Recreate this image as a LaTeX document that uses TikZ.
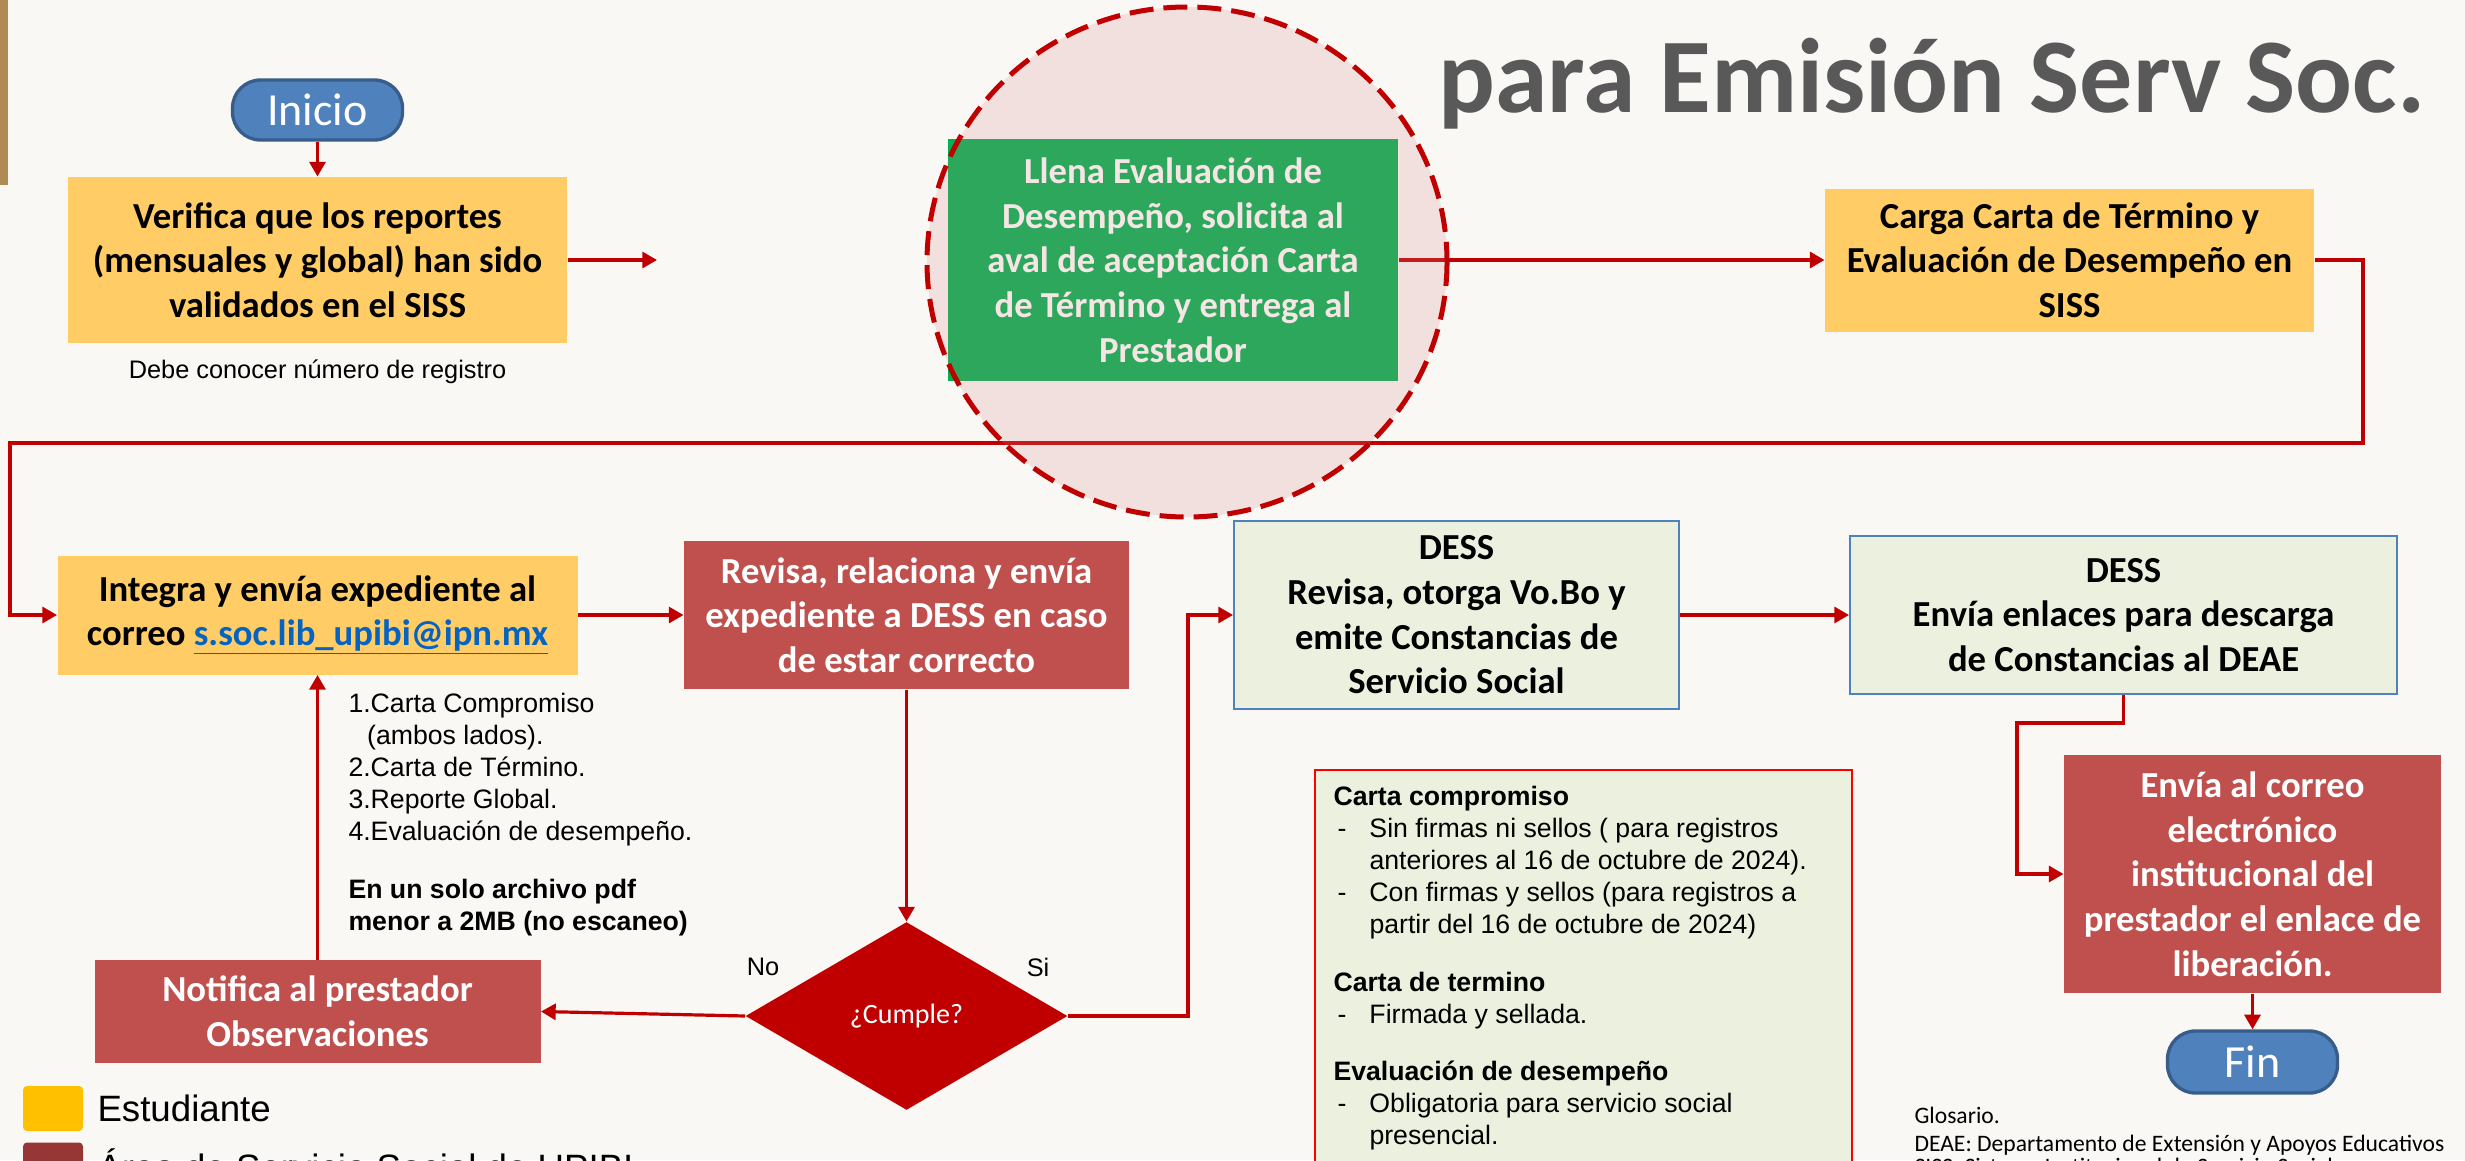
\documentclass[tikz,border=0pt]{standalone}
\usepackage{fontspec}
\setmainfont{Carlito}
\newfontfamily\arialfont{Liberation Sans}
\usepackage{xcolor}
\usetikzlibrary{shapes.geometric,arrows.meta}
\tikzset{every picture/.style={line width=0.75pt}}

\definecolor{estudiante}{RGB}{255,204,102}
\definecolor{upibired}{RGB}{192,80,77}
\definecolor{avalgreen}{RGB}{0,176,80}
\definecolor{dessfill}{RGB}{235,241,222}
\definecolor{dessline}{RGB}{79,129,189}
\definecolor{termfill}{RGB}{79,129,189}
\definecolor{termline}{RGB}{56,93,138}
\definecolor{flowred}{RGB}{192,0,0}
\definecolor{titlegray}{RGB}{89,89,89}
\definecolor{maillink}{RGB}{5,99,193}
\definecolor{bgcream}{RGB}{250,248,244}
\definecolor{barbrown}{RGB}{176,138,84}
\definecolor{tintpink}{RGB}{212,136,136}
\definecolor{legyellow}{RGB}{255,192,0}
\definecolor{legbrown}{RGB}{150,55,53}

\newcommand{\boxtxt}{\fontsize{27.5}{33.5}\selectfont\bfseries}
\newcommand{\notetxt}{\arialfont\fontsize{20}{24}\selectfont}
\newcommand{\guion}{\makebox[27pt][l]{\hspace{3pt}-}}

\tikzset{
  process/.style={rectangle, inner sep=0pt, align=center, font=\boxtxt},
  yellowbox/.style={process, fill=estudiante, text=black},
  redbox/.style={process, fill=upibired, text=white},
  greenbox/.style={process, fill=avalgreen, text=white},
  dessbox/.style={process, fill=dessfill, draw=dessline, line width=1.5pt, text=black},
  terminal/.style={rectangle, rounded corners=21pt, fill=termfill, draw=termline, line width=2.5pt,
    text=white, inner sep=0pt, font=\fontsize{34.5}{40}\selectfont},
  flow/.style={draw=flowred, line width=2.4pt, -{Triangle[length=11pt,width=12pt]}},
  note/.style={inner sep=0pt, align=left, font=\notetxt, text=black},
  glosa/.style={inner sep=0pt, anchor=base west, font=\fontsize{17.7}{21.75}\selectfont},
}

\begin{document}
\begin{tikzpicture}[x=0.75pt,y=0.75pt,yscale=-1,xscale=1]
  \fill[bgcream] (0,0) rectangle (2465,1160);
  \useasboundingbox (0,0) rectangle (2465,1160);
  \fill[barbrown] (0,0) rectangle (8,185);

  % titulo
  \node[anchor=base west, inner sep=0pt, text=titlegray, font=\fontsize{79.5}{90}\selectfont\bfseries] (titulo) at (1438,112) {para Emisión Serv Soc.};

  % fila superior
  \node[terminal, minimum width=127.5pt, minimum height=45pt] (inicio) at (317.5,110) {Inicio};
  \node[yellowbox, minimum width=374.25pt, minimum height=124.5pt] (verifica) at (317.5,260)
    {Verifica que los reportes\\(mensuales y global) han sido\\validados en el SISS};
  \node[note, font=\arialfont\fontsize{19}{23}\selectfont] (registro) at (317.5,372) {Debe conocer número de registro};
  \coordinate (verfin) at (657,260);
  \node[greenbox, minimum width=337.5pt, minimum height=181.5pt] (llena) at (1173,260)
    {Llena Evaluación de\\Desempeño, solicita al\\aval de aceptación Carta\\de Término y entrega al\\Prestador};
  \node[yellowbox, minimum width=366.75pt, minimum height=107.25pt] (carga) at (2069.5,260)
    {Carga Carta de Término y\\Evaluación de Desempeño en\\SISS};

  % fila media
  \node[yellowbox, minimum width=390pt, minimum height=89.25pt] (integra) at (317.5,615)
    {Integra y envía expediente al\\correo \textcolor{maillink}{\underline{s.soc.lib\_upibi@ipn.mx}}};
  \node[redbox, minimum width=333.75pt, minimum height=111pt] (revisa) at (906.5,615)
    {Revisa, relaciona y envía\\expediente a DESS en caso\\de estar correcto};
  \node[dessbox, minimum width=333.75pt, minimum height=141pt] (dess1) at (1456.5,615)
    {DESS\\Revisa, otorga Vo.Bo y\\emite Constancias de\\Servicio Social};
  \node[dessbox, minimum width=410.25pt, minimum height=118.5pt] (dess2) at (2123.5,615)
    {DESS\\Envía enlaces para descarga\\de Constancias al DEAE};

  % requisitos
  \node[note, anchor=north west] (requisitos) at (348,693)
    {1.Carta Compromiso\\\hspace*{14pt}(ambos lados).\\2.Carta de Término.\\3.Reporte Global.\\4.Evaluación de desempeño.\\[19.5pt]
     \textbf{En un solo archivo pdf}\\\textbf{menor a 2MB (no escaneo)}};

  % fila inferior
  \node[diamond, aspect=1.713, fill=flowred, inner sep=0pt, minimum width=241.5pt, minimum height=141pt,
    text=white, font=\fontsize{21}{25}\selectfont] (cumple) at (906.5,1016) {¿Cumple?};
  \node[note, font=\arialfont\fontsize{19}{23}\selectfont] (no) at (763,967) {No};
  \node[note, font=\arialfont\fontsize{19}{23}\selectfont] (si) at (1038,967) {Si};
  \node[redbox, minimum width=334.5pt, minimum height=77.25pt] (notifica) at (317.5,1011.5)
    {Notifica al prestador\\Observaciones};
  \node[redbox, minimum width=282.75pt, minimum height=178.5pt] (envia) at (2252.5,874)
    {Envía al correo\\electrónico\\institucional del\\prestador el enlace de\\liberación.};
  \node[terminal, minimum width=127.5pt, minimum height=46.5pt] (fin) at (2252.5,1062) {Fin};

  % cuadro de notas
  \draw[red, line width=2pt, fill=dessfill] (1315,770) rectangle (1852,1200);
  \node[note, anchor=north west] (notas) at (1333,786)
    {\textbf{Carta compromiso}\\
     \guion Sin firmas ni sellos ( para registros\\
     \hspace*{27pt}anteriores al 16 de octubre de 2024).\\
     \guion Con firmas y sellos (para registros a\\
     \hspace*{27pt}partir del 16 de octubre de 2024)\\[19pt]
     \textbf{Carta de termino}\\
     \guion Firmada y sellada.\\[19pt]
     \textbf{Evaluación de desempeño}\\
     \guion Obligatoria para servicio social\\
     \hspace*{27pt}presencial.};

  % leyenda
  \node[fill=legyellow, rounded corners=3pt, minimum width=45pt, minimum height=33.75pt, inner sep=0pt] (legest) at (53,1108.5) {};
  \node[anchor=west, inner sep=0pt, font=\arialfont\fontsize{27.5}{30}\selectfont] (legesttxt) at (97,1108) {Estudiante};
  \node[fill=legbrown, rounded corners=3pt, minimum width=45pt, minimum height=33.75pt, inner sep=0pt] (legarea) at (53,1165) {};
  \node[anchor=west, inner sep=0pt, font=\arialfont\fontsize{27.5}{30}\selectfont] (legareatxt) at (97,1165) {Área de Servicio Social de UPIBI};

  % glosario
  \node[glosa] (glos1) at (1914,1123) {Glosario.};
  \node[glosa] (glos2) at (1914,1151) {DEAE: Departamento de Extensión y Apoyos Educativos};
  \node[glosa] (glos3) at (1914,1174) {SISS: Sistema Institucional de Servicio Social};

  % conectores
  \draw[flow] (inicio.south) -- (verifica.north);
  \draw[flow] (verifica.east) -- (verfin);
  \draw[flow] (llena.east) -- (carga.west);
  \coordinate (retder) at (2363,443);
  \coordinate (retizq) at (10,443);
  \draw[flow] (carga.east) -| (retder) -- (retizq) |- (integra.west);
  \draw[flow] (integra.east) -- (revisa.west);
  \draw[flow] (revisa.south) -- (cumple.north);
  \draw[flow] (cumple.west) -- (notifica.east);
  \draw[flow] (notifica.north) -- (integra.south);
  \coordinate (sicodo) at (1188,1016);
  \draw[flow] (cumple.east) -- (sicodo) |- (dess1.west);
  \draw[flow] (dess1.east) -- (dess2.west);
  \coordinate (bajada) at (2017,723);
  \draw[flow] (dess2.south) |- (bajada) |- (envia.west);
  \draw[flow] (envia.south) -- (fin.north);

  % circulo punteado
  \fill[tintpink, fill opacity=0.21] (1187,262) ellipse [x radius=260, y radius=255];
  \draw[flowred, line width=3.75pt, dash pattern=on 18pt off 7.5pt] (1187,262) ellipse [x radius=260, y radius=255];
\end{tikzpicture}
\end{document}
